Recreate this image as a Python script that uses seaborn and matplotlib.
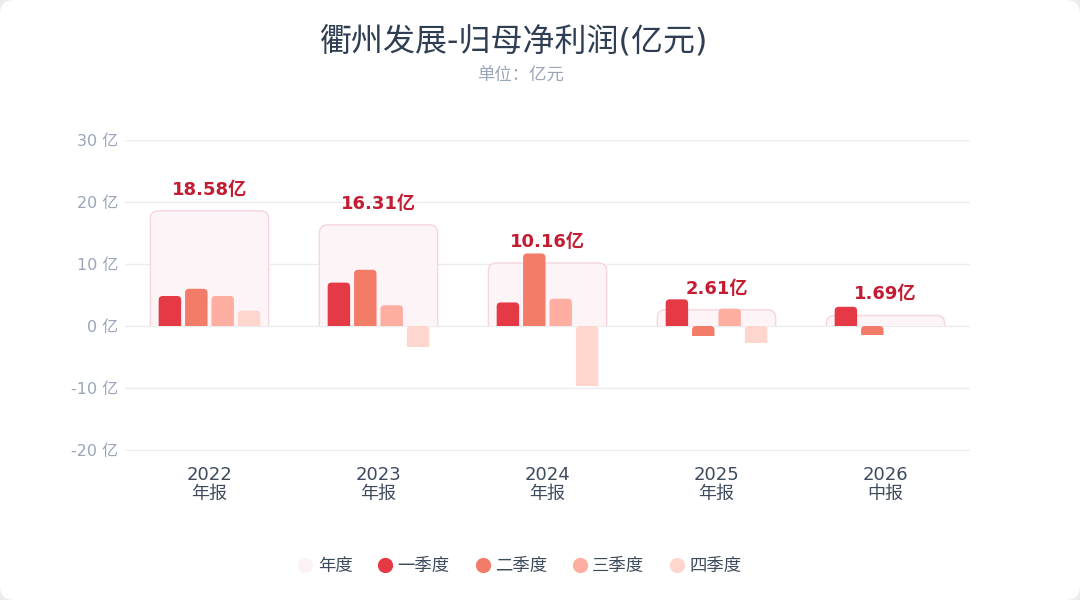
import numpy as np
import pandas as pd
import matplotlib
matplotlib.use('Agg')
import matplotlib.pyplot as plt
import seaborn as sns
from matplotlib.patches import FancyBboxPatch, Rectangle
from matplotlib.lines import Line2D

# data (亿元)
years = ['2022', '2023', '2024', '2025', '2026']
periods = ['年报', '年报', '年报', '年报', '中报']
annual = [18.58, 16.31, 10.16, 2.61, 1.69]
q1 = [4.84, 7.0, 3.8, 4.3, 3.1]
q2 = [6.0, 9.07, 11.7, -1.6, -1.45]
q3 = [4.84, 3.35, 4.4, 2.8, np.nan]
q4 = [2.47, -3.35, -9.7, -2.75, np.nan]
quarters = ['一季度', '二季度', '三季度', '四季度']
qcolors = ['#e63946', '#f27c68', '#fdaea1', '#fed6cd']
yticks = [-20, -10, 0, 10, 20, 30]

labels = [y + '\n' + p for y, p in zip(years, periods)]
df = pd.DataFrame({
    'label': labels * 4,
    'quarter': np.repeat(quarters, len(years)),
    'value': q1 + q2 + q3 + q4,
})

sns.set_theme(style='white')
plt.rcParams['font.family'] = ['DejaVu Sans', 'Noto Sans CJK SC']

fig = plt.figure(figsize=(10.8, 6), dpi=100)
fig.patch.set_facecolor('#ececee')
card = FancyBboxPatch((0, 0), 1, 1, boxstyle='round,pad=0,rounding_size=%f' % (14 / 1080),
                      mutation_aspect=1080 / 600, transform=fig.transFigure,
                      facecolor='white', edgecolor='none', zorder=-10)
fig.patches.append(card)

ymin, ymax = -20.15, 30
px_y = 310 / 50.0
extra = (-20 - ymin) * px_y
ax = fig.add_axes([125 / 1080, (150 - extra) / 600, 845 / 1080, (310 + extra) / 600])
ax.set_facecolor('none')

sns.barplot(data=df, x='label', y='value', hue='quarter', order=labels,
            hue_order=quarters, palette=qcolors, saturation=1, width=0.625,
            gap=0.15, legend=False, ax=ax, zorder=3)

ax.set_xlim(-0.5, len(years) - 0.5)
ax.set_ylim(ymin, ymax)

# pixel sizes of one data unit, for rounded corners
px_x = 845 / (len(years))
aspect = px_x / px_y


def rounded(x0, w, lo, hi, radius_px, **kw):
    r = radius_px / px_x
    pad = radius_px / px_y
    p = FancyBboxPatch((x0, lo - pad), w, hi - lo + pad,
                       boxstyle='round,pad=0,rounding_size=%f' % r,
                       mutation_aspect=aspect, **kw)
    ax.add_patch(p)
    clip = Rectangle((x0 - 1, lo), w + 2, 100, transform=ax.transData)
    p.set_clip_path(clip)
    return p


# swap seaborn's square bars for rounded ones
bars = list(ax.patches)
for b in bars:
    h = b.get_height()
    x0, w, y0 = b.get_x(), b.get_width(), b.get_y()
    fc = b.get_facecolor()
    b.remove()
    if np.isnan(h):
        continue
    lo, hi = min(y0, y0 + h), max(y0, y0 + h)
    rounded(x0, w, lo, hi, 4, facecolor=fc, edgecolor='none', zorder=3)

# annual boxes behind the quarter bars
for i, v in enumerate(annual):
    rounded(i - 0.35, 0.7, 0, v, 8, facecolor='#fcf4f6', edgecolor='#f6d6dd',
            linewidth=1, zorder=2)
    ax.text(i, v + 3.4, '%.2f亿' % v, ha='center', va='center', fontsize=13,
            fontweight='bold', color='#c41d33', zorder=5)

ax.set_yticks(yticks)
ax.set_yticklabels(['%d 亿' % t for t in yticks], fontsize=11.5, color='#9aa5b8')
ax.set_xticks(range(len(years)))
ax.set_xticklabels(labels, fontsize=13, color='#3d4a5c', linespacing=1.05)
ax.tick_params(axis='x', length=0, pad=11)
ax.tick_params(axis='y', length=0, pad=5)
ax.grid(axis='y', color='#ebebf0', linewidth=1, zorder=0)
ax.set_axisbelow(True)
for s in ax.spines.values():
    s.set_visible(False)
ax.set_xlabel('')
ax.set_ylabel('')

fig.text(514 / 1080, 1 - 42 / 600, '衢州发展-归母净利润(亿元)', ha='center', va='center',
         fontsize=23, color='#2f3e52')
fig.text(520 / 1080, 1 - 76 / 600, '单位：亿元', ha='center', va='center',
         fontsize=12.5, color='#9aa5b8', family=['Noto Sans CJK SC', 'DejaVu Sans'])

handles = [Line2D([], [], marker='o', linestyle='', markersize=11,
                  markerfacecolor='#fcf1f3', markeredgecolor='none')]
handles += [Line2D([], [], marker='o', linestyle='', markersize=11,
                   markerfacecolor=c, markeredgecolor='none') for c in qcolors]
leg = fig.legend(handles, ['年度'] + quarters, loc='center', ncol=5,
                 bbox_to_anchor=(520 / 1080, 1 - 566 / 600), frameon=False,
                 fontsize=12.5, handlelength=0.8, handletextpad=0.3,
                 columnspacing=1.5)
for t in leg.get_texts():
    t.set_color('#3d4a5c')

fig.savefig('out.png', dpi=100, facecolor=fig.get_facecolor())
